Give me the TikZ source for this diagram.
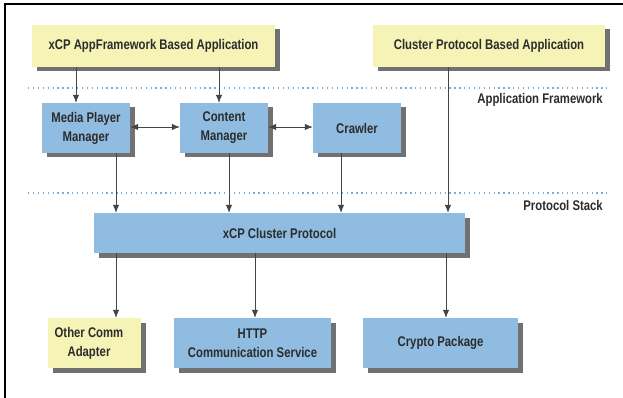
\documentclass[tikz,border=0pt]{standalone}
\usepackage{fontspec}
\setmainfont{Liberation Sans}[FakeStretch=0.81]
\usetikzlibrary{shadows,arrows.meta}
\definecolor{boxyellow}{HTML}{F6F3B6}
\definecolor{boxblue}{HTML}{8FBCE0}
\definecolor{txtgray}{HTML}{2C2C2C}
\definecolor{linegray}{HTML}{454545}
\definecolor{dotblue}{HTML}{74AEDB}
\tikzset{
  base/.style={rectangle, inner sep=0pt, text=txtgray, align=center,
    font=\fontsize{14}{19}\selectfont\bfseries,
    drop shadow={shadow xshift=4.5pt, shadow yshift=-4.5pt, fill=black!65, opacity=0.85}},
  ybox/.style={base, fill=boxyellow},
  bbox/.style={base, fill=boxblue},
  arr/.style={draw=linegray, line width=0.8pt, -{Latex[length=8pt,width=6.5pt]}},
  darr/.style={draw=linegray, line width=0.8pt, {Latex[length=8pt,width=6.5pt]}-{Latex[length=8pt,width=6.5pt]}},
  sep/.style={draw=dotblue, line width=1.3pt, dash pattern=on 1.3pt off 3.6pt},
  lbl/.style={text=txtgray, anchor=east, inner sep=0pt, font=\fontsize{14}{16}\selectfont\bfseries}
}
\begin{document}
\begin{tikzpicture}[x=1pt,y=-1pt]
\useasboundingbox (0,0) rectangle (623,398);
\fill[white] (0,0) rectangle (623,398);
% frame
\draw[line width=1.6pt, black] (5,398) -- (5,4) -- (623,4);
% separators
\draw[sep] (28,88) -- (607,88);
\draw[sep] (28,193) -- (607,193);
\node[lbl] (lafw) at (603,100) {Application Framework};
\node[lbl] (lps) at (603,205) {Protocol Stack};
% boxes
\node[ybox, minimum width=243pt, minimum height=42pt] (app1) at (153.5,46) {xCP AppFramework Based Application};
\node[ybox, minimum width=232pt, minimum height=42pt] (app2) at (489,46) {Cluster Protocol Based Application};
\node[bbox, minimum width=88pt, minimum height=50pt] (mpm) at (86,128) {Media Player\\Manager};
\node[bbox, minimum width=88pt, minimum height=50pt] (cm) at (224,128) {Content\\Manager};
\node[bbox, minimum width=88pt, minimum height=50pt] (crawler) at (357,128) {Crawler};
\node[bbox, minimum width=371pt, minimum height=40pt] (xcp) at (279.5,233) {xCP Cluster Protocol};
\node[ybox, minimum width=93pt, minimum height=50pt] (other) at (94.5,343) {\hspace*{-11pt}Other Comm\\\hspace*{-11pt}Adapter};
\node[bbox, minimum width=157pt, minimum height=50pt] (http) at (252.5,343) {HTTP\\Communication Service};
\node[bbox, minimum width=155pt, minimum height=50pt] (crypto) at (440.5,343) {Crypto Package};
% connectors
\draw[arr] ([xshift=-10pt]mpm.north |- app1.south) -- ([xshift=-10pt]mpm.north);
\draw[arr] ([xshift=-5pt]cm.north |- app1.south) -- ([xshift=-5pt]cm.north);
\draw[darr] ([yshift=1pt]mpm.east) -- ([yshift=1pt]cm.west);
\draw[darr] ([yshift=1pt]cm.east) -- ([yshift=1pt]crawler.west);
\draw[arr] ([xshift=30pt]mpm.south) -- ([xshift=30pt]mpm.south |- xcp.north);
\draw[arr] ([xshift=5pt]cm.south) -- ([xshift=5pt]cm.south |- xcp.north);
\draw[arr] ([xshift=-16pt]crawler.south) -- ([xshift=-16pt]crawler.south |- xcp.north);
\draw[arr] ([xshift=-41pt]app2.south) -- ([xshift=-41pt]app2.south |- xcp.north);
\draw[arr] ([xshift=21.5pt]other.north |- xcp.south) -- ([xshift=21.5pt]other.north);
\draw[arr] ([xshift=2.5pt]http.north |- xcp.south) -- ([xshift=2.5pt]http.north);
\draw[arr] ([xshift=5.5pt]crypto.north |- xcp.south) -- ([xshift=5.5pt]crypto.north);
\end{tikzpicture}
\end{document}
